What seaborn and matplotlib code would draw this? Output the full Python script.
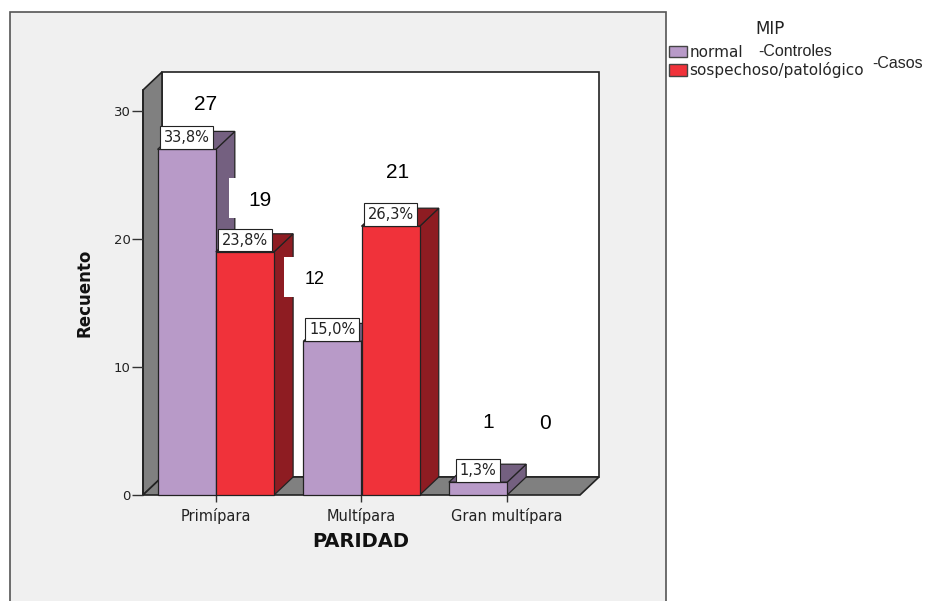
import numpy as np
import pandas as pd
import matplotlib
matplotlib.use("Agg")
import matplotlib.pyplot as plt
import seaborn as sns
from matplotlib.patches import Rectangle, Polygon, Patch
from matplotlib import transforms

# ---------------- data ----------------
categories = ["Primípara", "Multípara", "Gran multípara"]
mip_levels = ["normal", "sospechoso/patológico"]
normal_counts = [27, 12, 1]
sosp_counts = [19, 21, 0]
normal_pct = ["33,8%", "15,0%", "1,3%"]
sosp_pct = ["23,8%", "26,3%", ""]
overlay_labels = ["27", "19", "12", "21", "1", "0"]
legend_title = "MIP"
legend_notes = ["-Controles", "-Casos"]
yticks = [0, 10, 20, 30]

# ---------------- styling ----------------
sns.set_theme(style="white")
plt.rcParams["font.family"] = ["DejaVu Sans"]

PURPLE = "#b89ac8"
RED = "#f0323a"
DARK = {0: "#746080", 1: "#8e1c22"}
WALL_GRAY = "#808080"
EDGE = "#222222"
W, H = 928, 601

fig = plt.figure(figsize=(W / 100, H / 100), dpi=100)
fig.patch.set_facecolor("white")

# outer gray chart frame
fig.add_artist(Rectangle((10 / W, -0.02), 656 / W, (H - 12) / H + 0.02,
                         transform=fig.transFigure, fc="#f0f0f0", ec="#555555",
                         lw=1.2, zorder=-5))

ax = fig.add_axes([143 / W, (H - 495) / H, 437 / W, 405 / H])
ax.set_facecolor("none")

df = pd.DataFrame({
    "PARIDAD": categories * 2,
    "Recuento": normal_counts + sosp_counts,
    "MIP": [mip_levels[0]] * 3 + [mip_levels[1]] * 3,
})
sns.barplot(data=df, x="PARIDAD", y="Recuento", hue="MIP", hue_order=mip_levels,
            order=categories, palette=[PURPLE, RED], saturation=1, width=0.8,
            edgecolor=EDGE, linewidth=0.9, legend=False, ax=ax)

XMIN, XMAX, YTOP = -0.5, 2.5, 31.64
ax.set_xlim(XMIN, XMAX)
ax.set_ylim(0, YTOP)

# depth offset (pixels) converted to data units
DX_PX, DY_PX = 19, 18
o = ax.transData.transform((0, 0))
ddx, ddy = ax.transData.inverted().transform((o[0] + DX_PX, o[1] + DY_PX))

# back wall, left wall, floor
ax.add_patch(Rectangle((XMIN + ddx, ddy), XMAX - XMIN, YTOP, fc="white", ec=EDGE,
                       lw=1.2, zorder=0.2, clip_on=False))
ax.add_patch(Polygon([(XMIN, 0), (XMIN, YTOP), (XMIN + ddx, YTOP + ddy), (XMIN + ddx, ddy)],
                     closed=True, fc=WALL_GRAY, ec=EDGE, lw=1.2, zorder=0.3, clip_on=False))
ax.add_patch(Polygon([(XMIN, 0), (XMAX, 0), (XMAX + ddx, ddy), (XMIN + ddx, ddy)],
                     closed=True, fc=WALL_GRAY, ec=EDGE, lw=1.2, zorder=0.3, clip_on=False))

# 3D faces + percentage labels
bars = list(ax.patches)[:6]
pct = [normal_pct, sosp_pct]
for idx, p in enumerate(bars):
    j = idx // 3
    i = idx % 3
    x0, w, h = p.get_x(), p.get_width(), p.get_height()
    x1 = x0 + w
    z = 2 + j
    if h <= 0:
        p.set_visible(False)
        continue
    p.set_zorder(z + 0.05)
    p.set_clip_on(False)
    ax.add_patch(Polygon([(x1, 0), (x1, h), (x1 + ddx, h + ddy), (x1 + ddx, ddy)], closed=True,
                         fc=DARK[j], ec=EDGE, lw=0.9, zorder=z, clip_on=False))
    ax.add_patch(Polygon([(x0, h), (x1, h), (x1 + ddx, h + ddy), (x0 + ddx, h + ddy)], closed=True,
                         fc=DARK[j], ec=EDGE, lw=0.9, zorder=z, clip_on=False))
    if pct[j][i]:
        ax.annotate(pct[j][i], (x0 + w / 2, h), xytext=(0, 3.0), textcoords="offset points",
                    ha="center", va="bottom", fontsize=10.5, color="#222222",
                    bbox=dict(boxstyle="square,pad=0.26", fc="white", ec=EDGE, lw=0.8),
                    zorder=z + 0.1, annotation_clip=False)

# pasted count annotations (white boxes behind)
ov_x = [-0.07, 0.30, 0.68, 1.25, 1.87, 2.26]
ov_y = [30.5, 23.0, 16.8, 25.2, 5.7, 5.6]
ov_fs = [15, 15, 13, 15, 15, 15]
for lab, xv, yv, fs in zip(overlay_labels, ov_x, ov_y, ov_fs):
    tr = fig.dpi_scale_trans + transforms.ScaledTranslation(xv, yv, ax.transData)
    ax.add_artist(Rectangle((-0.31, -0.17), 0.62, 0.40, transform=tr, fc="white",
                            ec="none", zorder=10, clip_on=False))
    ax.text(xv, yv, lab, ha="center", va="center", fontsize=fs, color="black",
            family=["Liberation Sans", "DejaVu Sans"], zorder=11, clip_on=False)

# axes styling
for s in ["top", "right", "bottom"]:
    ax.spines[s].set_visible(False)
ax.spines["left"].set_color(EDGE)
ax.spines["left"].set_linewidth(1.2)
ax.spines["left"].set_zorder(0.4)
ax.set_yticks(yticks)
ax.set_yticklabels([str(t) for t in yticks])
ax.set_xticks(range(len(categories)))
ax.set_xticklabels(categories)
ax.tick_params(axis="y", which="both", direction="out", left=True, length=8, width=1,
               color="#333333", pad=1, labelsize=9.5, labelcolor="#222222")
ax.tick_params(axis="x", which="both", direction="out", bottom=True, length=5, width=1,
               color="#333333", pad=4, labelsize=10.5, labelcolor="#222222")

ax.set_xlabel("PARIDAD", fontsize=14, fontweight="bold", color="#111111")
ax.xaxis.set_label_coords(0.499, -0.116)
ax.xaxis.label.set_va("center")
ax.set_ylabel("Recuento", fontsize=12, fontweight="bold", color="#111111")
ax.yaxis.set_label_coords(-0.133, 0.499)
ax.yaxis.label.set_va("center")

# legend
handles = [Patch(fc=PURPLE, ec="#444444", lw=1), Patch(fc=RED, ec="#444444", lw=1)]
leg = fig.legend(handles, mip_levels, loc="upper left",
                 bbox_to_anchor=(669 / W, 1 - 45 / H), frameon=False, fontsize=11,
                 handlelength=1.15, handleheight=0.75,
                 handletextpad=0.2, labelspacing=0.15, borderpad=0, borderaxespad=0)
fig.text(770 / W, 1 - 29 / H, legend_title, ha="center", va="center", fontsize=12,
         color="#222222")
fig.text(758 / W, 1 - 51 / H, legend_notes[0], ha="left", va="center", fontsize=11.5,
         family=["Liberation Sans", "DejaVu Sans"])
fig.text(872 / W, 1 - 64 / H, legend_notes[1], ha="left", va="center", fontsize=11.5,
         family=["Liberation Sans", "DejaVu Sans"])

fig.savefig("out.png", dpi=100)
